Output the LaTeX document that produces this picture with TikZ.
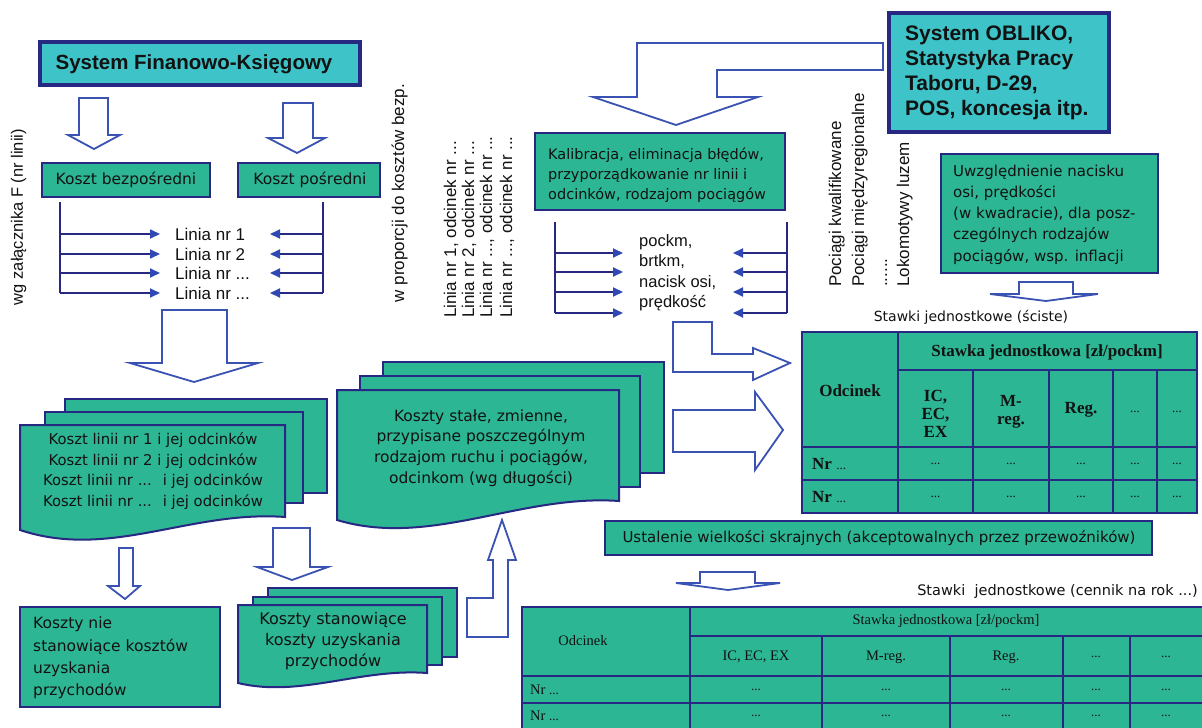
\documentclass[tikz,border=0pt]{standalone}
\usepackage{fontspec}
\setmainfont{Liberation Serif}
\newfontfamily\dvs{DejaVu Sans}
\newfontfamily\lsans{Liberation Sans}
\usetikzlibrary{arrows.meta}
\definecolor{gbox}{RGB}{44,182,148}
\definecolor{cbox}{RGB}{62,196,200}
\definecolor{navy}{RGB}{38,40,130}
\definecolor{ablue}{RGB}{48,72,180}
\definecolor{hblue}{RGB}{58,82,178}
\definecolor{txt}{RGB}{18,18,18}
\newcommand{\setfs}[2]{\fontsize{#1}{#2}\selectfont}
\begin{document}
\begin{tikzpicture}[x=1pt,y=-1pt,
  gbx/.style={draw=navy,line width=2pt,fill=gbox,inner sep=0pt},
  cbx/.style={draw=navy,line width=3.5pt,fill=cbox,inner sep=0pt},
  hollow/.style={draw=hblue,line width=1.8pt,fill=white,line join=miter},
  conn/.style={draw=navy,line width=1.8pt,-{Triangle[length=10pt,width=9pt,color=ablue]}},
  brk/.style={draw=navy,line width=1.8pt},
  tab/.style={draw=navy,line width=2pt},
  tl/.style={inner sep=0pt,text=txt},
  dtext/.style={tl,font=\dvs\setfs{15.5}{21}},
  ltext/.style={tl,font=\lsans\setfs{17}{20}},
  rtext/.style={tl,font=\lsans\setfs{17}{20},rotate=90,anchor=west},
  t1b/.style={tl,font=\bfseries\setfs{17}{18},align=center},
  t1v/.style={tl,font=\setfs{13}{16}},
  t2/.style={tl,font=\setfs{14.5}{17},align=center},
  t2v/.style={tl,font=\setfs{13}{16}}
]
\useasboundingbox (0,0) rectangle (1202,728);
\clip (0,0) rectangle (1202,728);
\fill[white] (0,0) rectangle (1202,728);

% ---------- top left ----------
\node[cbx,minimum width=320pt,minimum height=43pt] (sfk) at (200,63.5) {};
\node[tl,font=\lsans\bfseries\setfs{20.5}{24}] (sfkt) at (194,64) {System Finanowo-Księgowy};

\draw[hollow] (79,98) -- (108,98) -- (108,135) -- (120,135) -- (94,149) -- (68,135) -- (79,135) -- cycle;
\draw[hollow] (283,103) -- (313,103) -- (313,138) -- (325,138) -- (297,153) -- (268,138) -- (283,138) -- cycle;

\node[gbx,minimum width=168pt,minimum height=34pt] (kb) at (126,180) {};
\node[dtext] (kbt) at (126,180) {Koszt bezpośredni};
\node[gbx,minimum width=142pt,minimum height=34pt] (kp) at (309,180) {};
\node[dtext] (kpt) at (310,180) {Koszt pośredni};

% brackets left
\coordinate (bl1) at (60,202); \coordinate (bl2) at (60,293);
\draw[brk] (bl1) -- (bl2);
\coordinate (br1) at (323,202); \coordinate (br2) at (323,293);
\draw[brk] (br1) -- (br2);
\foreach \i/\y in {1/234,2/254,3/273,4/293}{
  \coordinate (la\i) at (60,\y); \coordinate (lb\i) at (160,\y);
  \coordinate (ra\i) at (323,\y); \coordinate (rb\i) at (270,\y);
  \draw[conn] (la\i) -- (lb\i);
  \draw[conn] (ra\i) -- (rb\i);
}
\node[ltext,anchor=west] (ln1) at (175,234) {Linia nr 1};
\node[ltext,anchor=west] (ln2) at (175,254) {Linia nr 2};
\node[ltext,anchor=west] (ln3) at (175,273) {Linia nr ...};
\node[ltext,anchor=west] (ln4) at (175,293) {Linia nr ...};

\node[tl,font=\lsans\setfs{16.5}{20},rotate=90] (wgz) at (19,217) {\strut wg załącznika F (nr linii)};
\node[tl,font=\lsans\setfs{17}{20},rotate=90] (wpr) at (400,193) {\strut w proporcji do kosztów bezp.};

\draw[hollow] (162,310) -- (227,310) -- (227,363) -- (258,363) -- (194,382) -- (130,363) -- (162,363) -- cycle;

% stacked doc A
\draw[gbx] (65,399) rectangle (327,493);
\draw[gbx] (45,412) rectangle (303,503);
\draw[gbx] (20,425) -- (285,425) -- (285,517) .. controls (190,510) and (110,560) .. (20,530) -- cycle;
\node[dtext,align=center,font=\dvs\setfs{14.8}{20.5}] (docA) at (153,471) {Koszt linii nr 1 i jej odcinków\\Koszt linii nr 2 i jej odcinków\\Koszt linii nr ... \ i jej odcinków\\Koszt linii nr ... \ i jej odcinków};

\draw[hollow] (119,548) -- (133,548) -- (133,586) -- (140,586) -- (125,599) -- (108,586) -- (119,586) -- cycle;
\node[gbx,minimum width=200pt,minimum height=100pt] (knie) at (120,657) {};
\node[dtext,align=left,anchor=west,font=\dvs\setfs{15.5}{22.3}] (kniet) at (33,658) {Koszty nie\\stanowiące kosztów\\uzyskania\\przychodów};

\draw[hollow] (273,528) -- (310,528) -- (310,567) -- (328,567) -- (292,580) -- (257,567) -- (273,567) -- cycle;

% stacked doc C
\draw[gbx] (268,588) rectangle (457,657);
\draw[gbx] (253,597) rectangle (442,665);
\draw[gbx] (238,605) -- (427,605) -- (427,673) .. controls (360,668) and (300,698) .. (238,683) -- cycle;
\node[dtext,align=center,font=\dvs\setfs{16}{21}] (docC) at (333,641) {Koszty stanowiące\\koszty uzyskania\\przychodów};

% up bent arrow
\draw[hollow] (467,598) -- (493,598) -- (493,560) -- (488,560) -- (502,520) -- (516,560) -- (508,560) -- (508,637) -- (467,637) -- cycle;

% stacked doc B
\draw[gbx] (383,362) rectangle (664,473);
\draw[gbx] (360,376) rectangle (640,487);
\draw[gbx] (337,390) -- (619,390) -- (619,501) .. controls (520,494) and (430,548) .. (337,520) -- cycle;
\node[dtext,align=center,font=\dvs\setfs{15.5}{20.7}] (docB) at (481,448) {Koszty stałe, zmienne,\\przypisane poszczególnym\\rodzajom ruchu i pociągów,\\odcinkom (wg długości)};

% ---------- middle top ----------
\draw[hollow] (637,43) -- (883,43) -- (883,70) -- (717,70) -- (717,97) -- (758,97) -- (676,125) -- (593,97) -- (637,97) -- cycle;

\node[gbx,minimum width=250pt,minimum height=77pt] (kal) at (660,171.5) {};
\node[dtext,align=left,anchor=west,font=\dvs\setfs{14.5}{20}] (kalt) at (548,175) {Kalibracja, eliminacja błędów,\\przyporządkowanie nr linii i\\odcinków, rodzajom pociągów};

\foreach \x/\t [count=\i] in {452/{Linia nr 1, odcinek nr ...},470/{Linia nr 2, odcinek nr ...},488/{Linia nr ..., odcinek nr ...},508/{Linia nr ..., odcinek nr ...}}{
  \node[rtext] (lo\i) at (\x,318) {\strut\t};
}

\coordinate (ml1) at (555,222); \coordinate (ml2) at (555,313);
\draw[brk] (ml1) -- (ml2);
\coordinate (mr1) at (787,222); \coordinate (mr2) at (787,313);
\draw[brk] (mr1) -- (mr2);
\foreach \i/\y in {1/253,2/272,3/292,4/313}{
  \coordinate (mla\i) at (555,\y); \coordinate (mlb\i) at (623,\y);
  \coordinate (mra\i) at (787,\y); \coordinate (mrb\i) at (733,\y);
  \draw[conn] (mla\i) -- (mlb\i);
  \draw[conn] (mra\i) -- (mrb\i);
}
\node[tl,font=\lsans\setfs{16.5}{20},anchor=west] (pk1) at (639,242) {pockm,};
\node[tl,font=\lsans\setfs{16.5}{20},anchor=west] (pk2) at (639,262) {brtkm,};
\node[tl,font=\lsans\setfs{16.5}{20},anchor=west] (pk3) at (639,283) {nacisk osi,};
\node[tl,font=\lsans\setfs{16.5}{20},anchor=west] (pk4) at (639,303) {prędkość};

% right arrows to table
\draw[hollow] (673,322) -- (712,322) -- (712,354) -- (753,354) -- (753,348) -- (790,363) -- (753,380) -- (753,372) -- (673,372) -- cycle;
\draw[hollow] (673,410) -- (755,410) -- (755,392) -- (783,430) -- (755,470) -- (755,452) -- (673,452) -- cycle;

% ---------- right top ----------
\node[cbx,minimum width=220pt,minimum height=119pt] (obl) at (999,72.5) {};
\node[tl,font=\lsans\bfseries\setfs{21}{25},align=left,anchor=west] (oblt) at (905,72.5) {System OBLIKO,\\Statystyka Pracy\\Taboru, D-29,\\POS, koncesja itp.};

\node[rtext] (rp1) at (837,287) {\strut Pociągi kwalifikowane};
\node[rtext] (rp2) at (860,287) {\strut Pociągi międzyregionalne};
\node[rtext] (rp3) at (883,287) {\strut ......};
\node[rtext] (rp4) at (905,287) {\strut Lokomotywy luzem};

\node[gbx,minimum width=217pt,minimum height=119pt] (uwz) at (1049.5,213.5) {};
\node[dtext,align=left,anchor=west,font=\dvs\setfs{15}{21.25}] (uwzt) at (953,214.5) {Uwzględnienie nacisku\\osi, prędkości\\(w kwadracie), dla posz-\\czególnych rodzajów\\pociągów, wsp. inflacji};

\draw[hollow] (1019,282) -- (1073,282) -- (1073,294) -- (1098,294) -- (1046,301) -- (990,294) -- (1019,294) -- cycle;
\node[tl,font=\dvs\setfs{14}{17}] (st1) at (971,317) {Stawki jednostkowe (ściste)};

% ---------- table 1 ----------
\fill[gbox] (802,332) rectangle (1197,513);
\draw[tab] (802,332) rectangle (1197,513);
\draw[tab] (898,332) -- (898,513);
\draw[tab] (898,370) -- (1197,370);
\draw[tab] (802,447) -- (1197,447);
\draw[tab] (802,480) -- (1197,480);
\foreach \x in {973,1049,1113,1157} \draw[tab] (\x,370) -- (\x,513);
\node[t1b] (a0) at (850,391) {Odcinek};
\node[t1b] (a1) at (1047,352) {Stawka jednostkowa [zł/pockm]};
\node[t1b] (a2) at (935.5,414) {IC,\\EC,\\EX};
\node[t1b] (a3) at (1011,412) {M-\\reg.};
\node[t1b] (a4) at (1081,410) {Reg.};
\node[t1v] (a5) at (1135,412) {...};
\node[t1v] (a6) at (1177,412) {...};
\foreach \y [count=\r] in {464,497}{
  \node[tl,anchor=west] (an\r) at (812,\y) {\bfseries\setfs{17}{18}Nr \mdseries\setfs{13}{16}...};
  \foreach \x [count=\c] in {935.5,1011,1081,1135,1177}
    \node[t1v] (av\r\c) at (\x,\y) {...};
}

\node[gbx,minimum width=547pt,minimum height=34pt] (ust) at (878.5,538) {};
\node[dtext,font=\dvs\setfs{15}{18}] (ustt) at (879,538) {Ustalenie wielkości skrajnych (akceptowalnych przez przewoźników)};

\draw[hollow] (700,572) -- (755,572) -- (755,583) -- (780,583) -- (728,590) -- (676,583) -- (700,583) -- cycle;
\node[tl,font=\dvs\setfs{14.5}{17},anchor=east] (st2) at (1198,591) {Stawki \ jednostkowe (cennik na rok ...)};

% ---------- table 2 ----------
\fill[gbox] (522,607) rectangle (1215,740);
\draw[tab] (522,607) rectangle (1215,740);
\draw[tab] (690,607) -- (690,740);
\draw[tab] (690,636) -- (1215,636);
\draw[tab] (522,676) -- (1215,676);
\draw[tab] (522,703) -- (1215,703);
\foreach \x in {822,950,1063,1130} \draw[tab] (\x,636) -- (\x,740);
\node[t2] (b0) at (583,641) {Odcinek};
\node[t2] (b1) at (946,621) {Stawka jednostkowa [zł/pockm]};
\node[t2] (b2) at (756,657) {IC, EC, EX};
\node[t2] (b3) at (886,657) {M-reg.};
\node[t2] (b4) at (1006,657) {Reg.};
\node[t2v] (b5) at (1096,657) {...};
\node[t2v] (b6) at (1166,657) {...};
\foreach \y [count=\r] in {690,716}{
  \node[t2,anchor=west] (bn\r) at (530,\y) {Nr \setfs{13}{16}...};
  \foreach \x [count=\c] in {756,886,1006,1096,1166}
    \node[t2v] (bv\r\c) at (\x,\y) {...};
}
\end{tikzpicture}
\end{document}
